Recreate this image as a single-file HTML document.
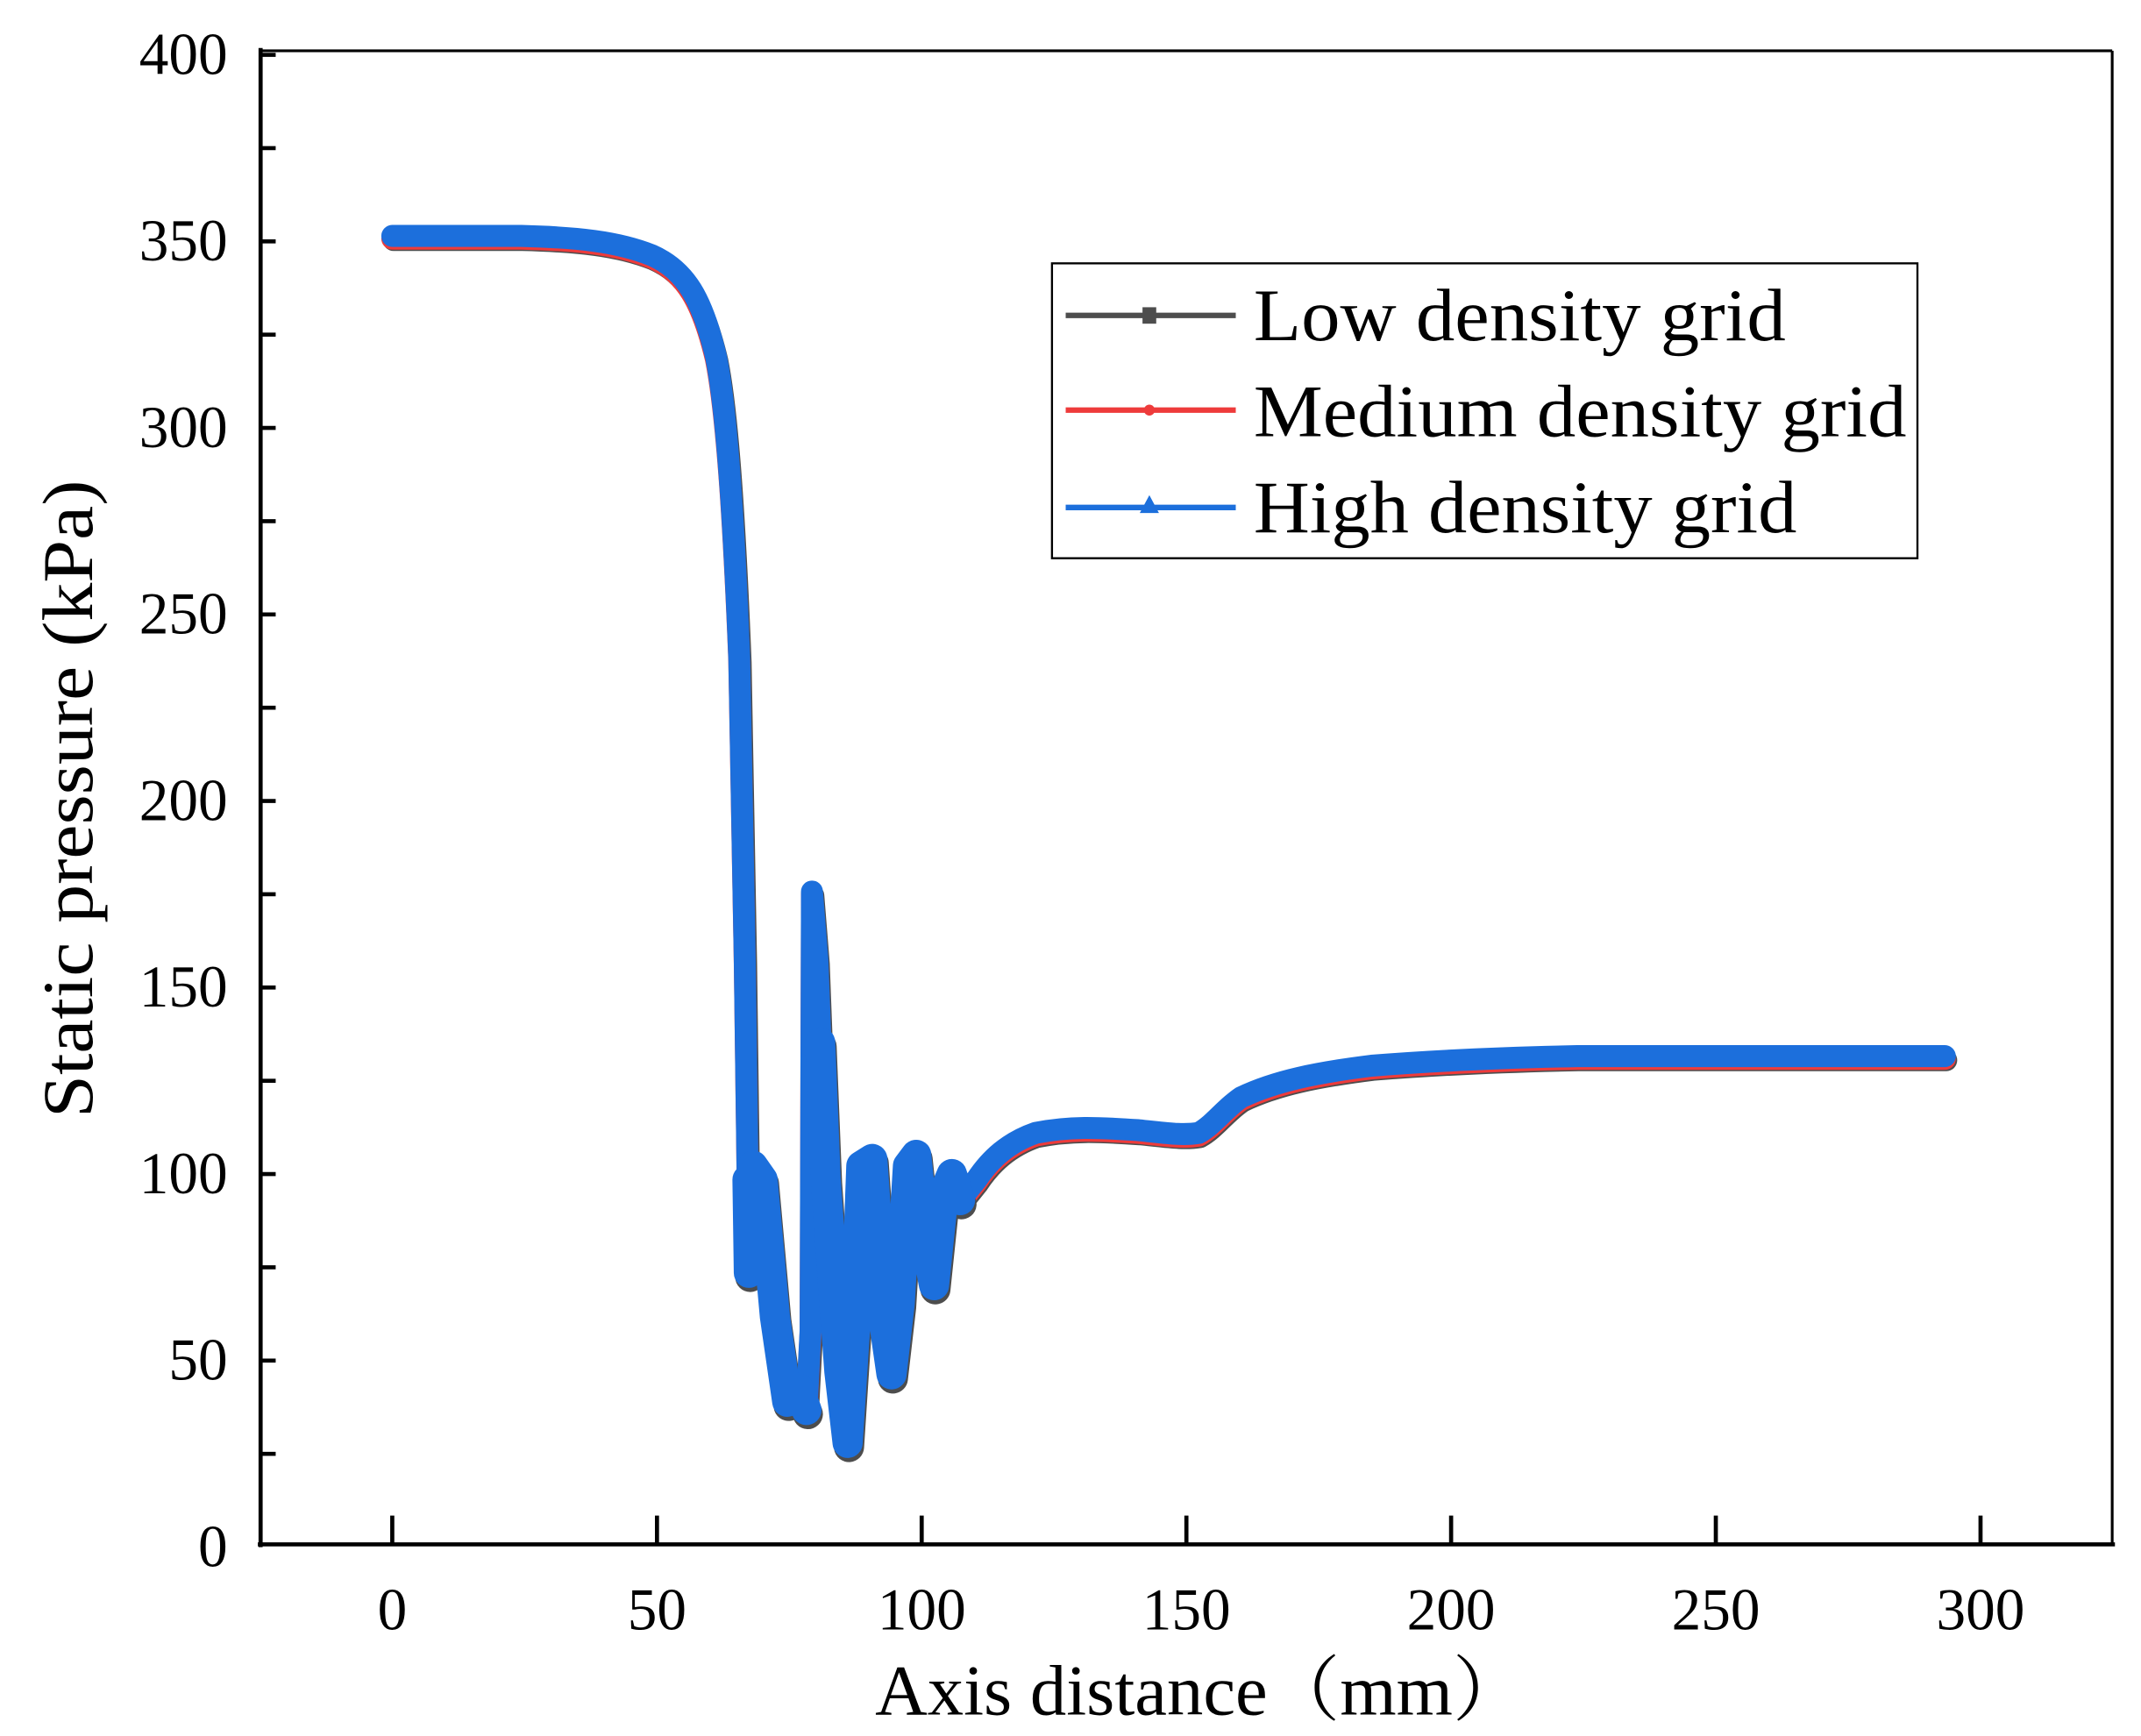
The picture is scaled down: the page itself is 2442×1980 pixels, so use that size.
<!DOCTYPE html>
<html><head><meta charset="utf-8"><style>html,body{margin:0;padding:0;background:#fff}svg{display:block}</style></head>
<body>
<svg width="2442" height="1980" viewBox="0 0 1561 1265.7" preserveAspectRatio="none" xmlns="http://www.w3.org/2000/svg">
<rect width="1561" height="1266" fill="#fff"/>
<g font-family="Liberation Serif, serif" fill="#000">
<line x1="190" y1="37" x2="1540" y2="37" stroke="#000" stroke-width="2"/>
<line x1="1540" y1="37" x2="1540" y2="1126" stroke="#000" stroke-width="2"/>
<line x1="190" y1="35" x2="190" y2="1128" stroke="#000" stroke-width="3"/>
<line x1="188" y1="1126" x2="1542" y2="1126" stroke="#000" stroke-width="3"/>
<g stroke="#000" stroke-width="3">
<line x1="190" x2="201" y1="40" y2="40"/><line x1="190" x2="201" y1="108" y2="108"/>
<line x1="190" x2="201" y1="176" y2="176"/><line x1="190" x2="201" y1="244" y2="244"/>
<line x1="190" x2="201" y1="312" y2="312"/><line x1="190" x2="201" y1="380" y2="380"/>
<line x1="190" x2="201" y1="448" y2="448"/><line x1="190" x2="201" y1="516" y2="516"/>
<line x1="190" x2="201" y1="584" y2="584"/><line x1="190" x2="201" y1="652" y2="652"/>
<line x1="190" x2="201" y1="720" y2="720"/><line x1="190" x2="201" y1="788" y2="788"/>
<line x1="190" x2="201" y1="856" y2="856"/><line x1="190" x2="201" y1="924" y2="924"/>
<line x1="190" x2="201" y1="992" y2="992"/><line x1="190" x2="201" y1="1060" y2="1060"/>
<line x1="286" x2="286" y1="1105" y2="1126"/><line x1="479" x2="479" y1="1105" y2="1126"/>
<line x1="672" x2="672" y1="1105" y2="1126"/><line x1="865" x2="865" y1="1105" y2="1126"/>
<line x1="1058" x2="1058" y1="1105" y2="1126"/><line x1="1251" x2="1251" y1="1105" y2="1126"/>
<line x1="1444" x2="1444" y1="1105" y2="1126"/>
</g>
<g font-size="43" text-anchor="end">
<text x="166" y="54">400</text><text x="166" y="190">350</text><text x="166" y="326">300</text>
<text x="166" y="462">250</text><text x="166" y="598">200</text><text x="166" y="734">150</text>
<text x="166" y="870">100</text><text x="166" y="1006">50</text><text x="166" y="1142">0</text>
</g>
<g font-size="43" text-anchor="middle">
<text x="286" y="1188">0</text><text x="479" y="1188">50</text><text x="672" y="1188">100</text>
<text x="865" y="1188">150</text><text x="1058" y="1188">200</text><text x="1251" y="1188">250</text>
<text x="1444" y="1188">300</text>
</g>
<text x="638" y="1250" font-size="52" textLength="474" lengthAdjust="spacingAndGlyphs" font-family="Liberation Serif, 'Noto Serif CJK SC', serif">Axis distance（mm）</text>
<text transform="translate(67,815) rotate(-90)" font-size="52" textLength="465" lengthAdjust="spacingAndGlyphs">Static pressure (kPa)</text>
</g>
<defs>
<path id="c" d="M286,172 L380,172 C420,173 450,176 475,186 C500,197 512,218 522,260 C530,300 535,380 539,480 L543,700 L546,928 L549,850 L556,860 L565,960 L574,1022 L582,1012 L588,1028 L591,970 L592,650 L596,700 L602,860 L612,1000 L618,1052 L624,960 L628,850 L636,845 L644,960 L650,1002 L656,950 L662,850 L668,842 L674,900 L681,937 L688,870 L694,856 L700,875 L712,860 C722,845 735,833 755,826 C780,821 800,822 830,824 C850,826 862,828 874,826 C885,820 893,808 905,800 C930,788 960,782 1000,777 C1050,773 1100,771 1150,770 L1418,770"/>
<path id="o" d="M545,860 L546,928 L549,850 L556,860 L565,960 L574,1022 L582,1012 L588,1028 M598,760 L602,860 L612,1000 L618,1052 L624,960 L628,850 L636,845 L644,960 L650,1002 L656,950 L662,850 L668,842 L674,900 L681,937 L688,870 L694,856 L700,875"/>
</defs>
<g fill="none" stroke-linejoin="round" stroke-linecap="round">
<use href="#c" stroke="#4d4d4d" stroke-width="16" transform="translate(1,3)"/>
<use href="#c" stroke="#ee3b3b" stroke-width="16" transform="translate(0,2)"/>
<use href="#o" stroke="#4d4d4d" stroke-width="22" transform="translate(1,3)"/>
<use href="#c" stroke="#1c6fdc" stroke-width="16"/>
<use href="#o" stroke="#1c6fdc" stroke-width="22"/>
</g>
<rect x="767" y="192" width="631" height="215" fill="#fff" stroke="#000" stroke-width="1.5"/>
<line x1="777" y1="230" x2="901" y2="230" stroke="#4d4d4d" stroke-width="4"/>
<rect x="833" y="224" width="10" height="12" fill="#4d4d4d"/>
<line x1="777" y1="299" x2="901" y2="299" stroke="#ee3b3b" stroke-width="4"/>
<circle cx="838" cy="299" r="4" fill="#ee3b3b"/>
<line x1="777" y1="370" x2="901" y2="370" stroke="#1c6fdc" stroke-width="4"/>
<polygon points="838,361 845,374 831,374" fill="#1c6fdc"/>
<g font-family="Liberation Serif, serif" font-size="54" fill="#000">
<text x="914" y="248" textLength="388" lengthAdjust="spacingAndGlyphs">Low density grid</text>
<text x="914" y="318" textLength="476" lengthAdjust="spacingAndGlyphs">Medium density grid</text>
<text x="914" y="388" textLength="396" lengthAdjust="spacingAndGlyphs">High density grid</text>
</g>
</svg>
</body></html>
